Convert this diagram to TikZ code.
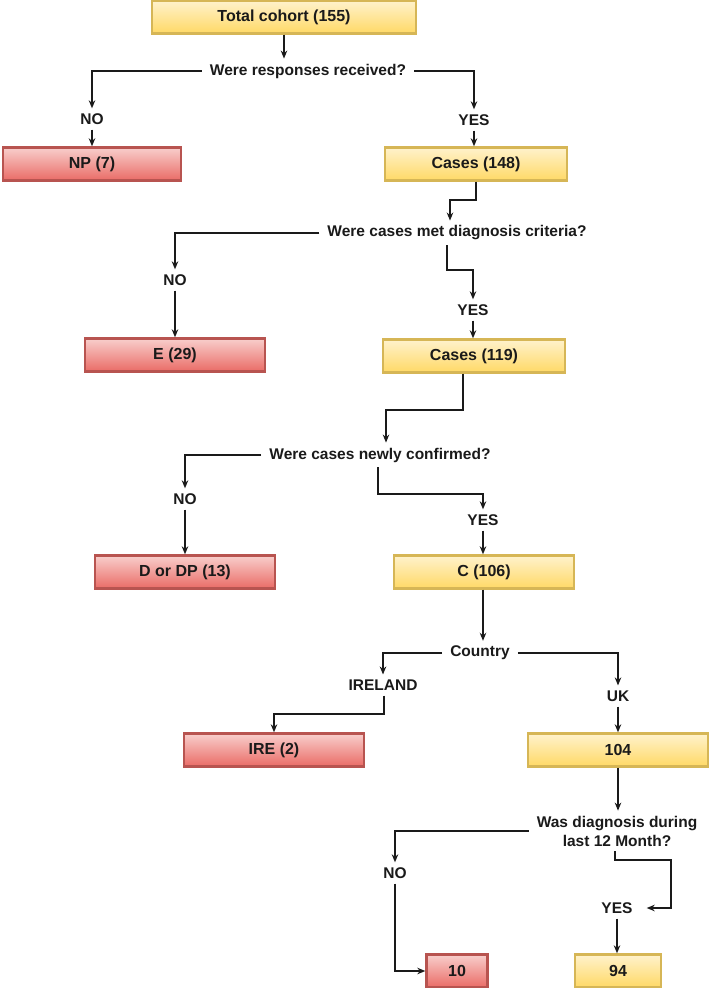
\documentclass[tikz,border=0pt]{standalone}
\usepackage{fontspec}
\setmainfont{Liberation Sans}
\usetikzlibrary{arrows.meta}
\definecolor{ytop}{HTML}{FFF2CC}
\definecolor{ybot}{HTML}{FFD966}
\definecolor{ybord}{HTML}{D6B656}
\definecolor{rtop}{HTML}{F8CECC}
\definecolor{rbot}{HTML}{EA6B66}
\definecolor{rbord}{HTML}{B85450}
\definecolor{ink}{HTML}{1A1A1A}
\begin{document}
\begin{tikzpicture}[x=1pt,y=-1pt,
  box/.style={draw, line width=2.4pt, minimum height=33pt, inner sep=0pt, font=\fontsize{16}{19}\selectfont\bfseries, text=ink},
  ybox/.style={box, draw=ybord, top color=ytop, bottom color=ybot},
  rbox/.style={box, draw=rbord, top color=rtop, bottom color=rbot},
  lbl/.style={font=\fontsize{15.5}{19}\selectfont\bfseries, text=ink, inner xsep=8pt, inner ysep=5pt},
  arr/.style={draw=ink, -{Stealth[length=8pt,width=6.5pt]}, line width=1.3pt}]
\useasboundingbox (0,0) rectangle (709,988);
\fill[white] (0,0) rectangle (709,988);

\node[ybox, minimum width=264pt] (tc) at (284,17) {Total cohort (155)};
\node[lbl] (q1) at (308,71) {Were responses received?};
\node[lbl] (no1) at (92,119) {NO};
\node[lbl] (yes1) at (474,120) {YES};
\node[rbox, minimum width=178pt] (np) at (92,164) {NP (7)};
\node[ybox, minimum width=182pt] (c148) at (476,164) {Cases (148)};
\node[lbl] (q2) at (457,233) {Were cases met diagnosis criteria?};
\node[lbl] (no2) at (175,280) {NO};
\node[lbl] (yes2) at (473,310) {YES};
\node[rbox, minimum width=180pt] (e29) at (175,355) {E (29)};
\node[ybox, minimum width=182pt] (c119) at (474,356) {Cases (119)};
\node[lbl] (q3) at (380,455) {Were cases newly confirmed?};
\node[lbl] (no3) at (185,499) {NO};
\node[lbl] (yes3) at (483,520) {YES};
\node[rbox, minimum width=180pt] (ddp) at (185,572) {D or DP (13)};
\node[ybox, minimum width=180pt] (c106) at (484,572) {C (106)};
\node[lbl] (cty) at (480,653) {Country};
\node[lbl] (ire) at (383,685) {IRELAND};
\node[lbl] (uk) at (618,696) {UK};
\node[rbox, minimum width=180pt] (ireb) at (274,750) {IRE (2)};
\node[ybox, minimum width=180pt] (b104) at (618,750) {104};
\node[lbl, align=center] (q5) at (617,831) {Was diagnosis during\\last 12 Month?};
\node[lbl] (no5) at (395,873) {NO};
\node[lbl] (yes5) at (617,908) {YES};
\node[rbox, minimum width=61pt] (b10) at (457,971) {10};
\node[ybox, minimum width=86pt] (b94) at (618,971) {94};

\coordinate (k1) at (450,200);
\coordinate (k2) at (447,270);
\coordinate (k3a) at (463,410);
\coordinate (k3b) at (386,410);
\coordinate (k4) at (378,494);
\coordinate (k5) at (384,714);
\coordinate (k6) at (615,860);
\coordinate (k7) at (671,900);

\draw[arr] (tc.south) -- (tc.south |- q1.north);
\draw[arr] (q1.west) -| (no1.north);
\draw[arr] (q1.east) -| (yes1.north);
\draw[arr] (no1.south) -- (np.north);
\draw[arr] (yes1.south) -- (yes1.south |- c148.north);

\draw[arr] (c148.south) |- (k1) -- (k1 |- q2.north);
\draw[arr] (q2.west) -| (no2.north);
\draw[arr] (no2.south) -- (e29.north);
\draw[arr] (k2 |- q2.south) -- (k2) -| (yes2.north);
\draw[arr] (yes2.south) -- (yes2.south |- c119.north);

\draw[arr] (k3a |- c119.south) -- (k3a) -- (k3b) -- (k3b |- q3.north);
\draw[arr] (q3.west) -| (no3.north);
\draw[arr] (no3.south) -- (ddp.north);
\draw[arr] (k4 |- q3.south) -- (k4) -| (yes3.north);
\draw[arr] (yes3.south) -- (yes3.south |- c106.north);

\draw[arr] (c106.south -| 483,0) -- (cty.north -| 483,0);
\draw[arr] (cty.west) -| (ire.north);
\draw[arr] (k5 |- ire.south) -- (k5) -| (ireb.north);
\draw[arr] (cty.east) -| (uk.north);
\draw[arr] (uk.south) -- (b104.north);

\draw[arr] (b104.south) -- (b104.south |- q5.north);
\draw[arr] (q5.west) -| (no5.north);
\draw[arr] (no5.south) |- (b10.west);
\draw[arr, shorten >=6pt] (k6 |- q5.south) -- (k6) -| (k7 |- yes5.east) -- (yes5.east);
\draw[arr] (yes5.south) -- (yes5.south |- b94.north);
\end{tikzpicture}
\end{document}
